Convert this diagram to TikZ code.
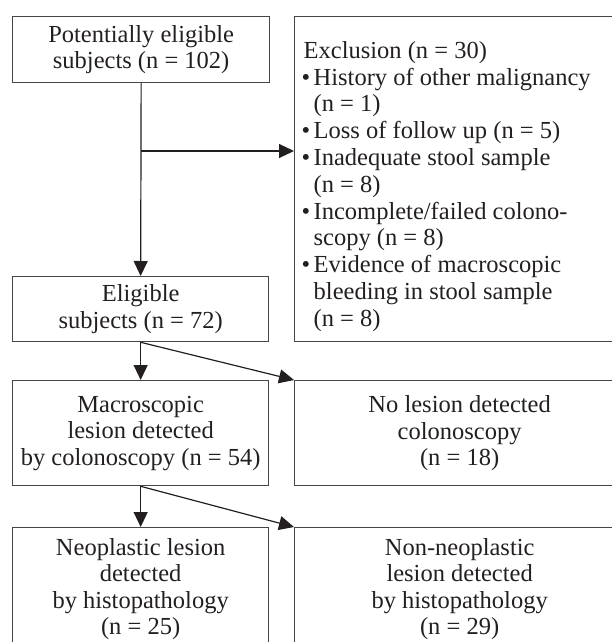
\documentclass[tikz,border=0pt]{standalone}
\usepackage{fontspec}
\usepackage{graphicx}
\setmainfont{Liberation Serif}
\usetikzlibrary{arrows.meta}
\definecolor{ink}{RGB}{35,31,32}
\definecolor{frame}{RGB}{70,70,70}
\newcommand{\exbullet}{\makebox[10pt][l]{\hspace*{-2pt}•}}
\newcommand{\exindent}{\hspace*{10pt}}
\begin{document}
\begin{tikzpicture}[x=1pt,y=-1pt,
  box/.style={draw=frame, line width=1.3pt, inner sep=0pt, anchor=north west,
    align=center, text=ink, font=\fontsize{24.5}{26.5}\selectfont},
  conn/.style={draw=ink, line width=1.2pt, -{Triangle[length=15pt,width=14pt]}},
  txt/.style={inner sep=0pt, anchor=north west, align=left, text=ink,
    font=\fontsize{24.5}{26.8}\selectfont}]
\useasboundingbox (0,0) rectangle (612,642);
\clip (0,0) rectangle (612,642);
\node[box, minimum width=257pt, minimum height=66pt] (p) at (12,16)
  {Potentially eligible\\subjects (n = 102)};
\node[box, minimum width=330pt, minimum height=325pt] (x) at (294,16) {};
\node[txt] (xt) at (303.5,41) {Exclusion (n = 30)\\
\exbullet History of other malignancy\\
\exindent(n = 1)\\
\exbullet Loss of follow up (n = 5)\\
\exbullet Inadequate stool sample\\
\exindent(n = 8)\\
\exbullet Incomplete/failed colono-\\
\exindent scopy (n = 8)\\
\exbullet Evidence of macroscopic\\
\exindent bleeding in stool sample\\
\exindent(n = 8)};
\node[box, minimum width=256pt, minimum height=65pt] (e) at (12,276)
  {Eligible\\subjects (n = 72)};
\node[box, minimum width=256pt, minimum height=105pt] (m) at (12,380)
  {Macroscopic\\lesion detected\\by colonoscopy (n = 54)};
\node[box, minimum width=330pt, minimum height=105pt] (nl) at (294,380)
  {No lesion detected\\colonoscopy\\(n = 18)};
\node[box, minimum width=256pt, minimum height=123pt] (neo) at (12,527)
  {Neoplastic lesion\\detected\\by histopathology\\(n = 25)};
\node[box, minimum width=330pt, minimum height=123pt] (nn) at (294,527)
  {Non-neoplastic\\lesion detected\\by histopathology\\(n = 29)};
\coordinate (j) at (p.south |- 0,151);
\draw[conn] (p.south) -- (e.north);
\draw[conn] (j) -- (j -| x.west);
\draw[conn] (e.south) -- (m.north);
\draw[conn] (e.south) -- (nl.north west);
\draw[conn] (m.south) -- (neo.north);
\draw[conn] (m.south) -- (nn.north west);
\end{tikzpicture}
\end{document}
